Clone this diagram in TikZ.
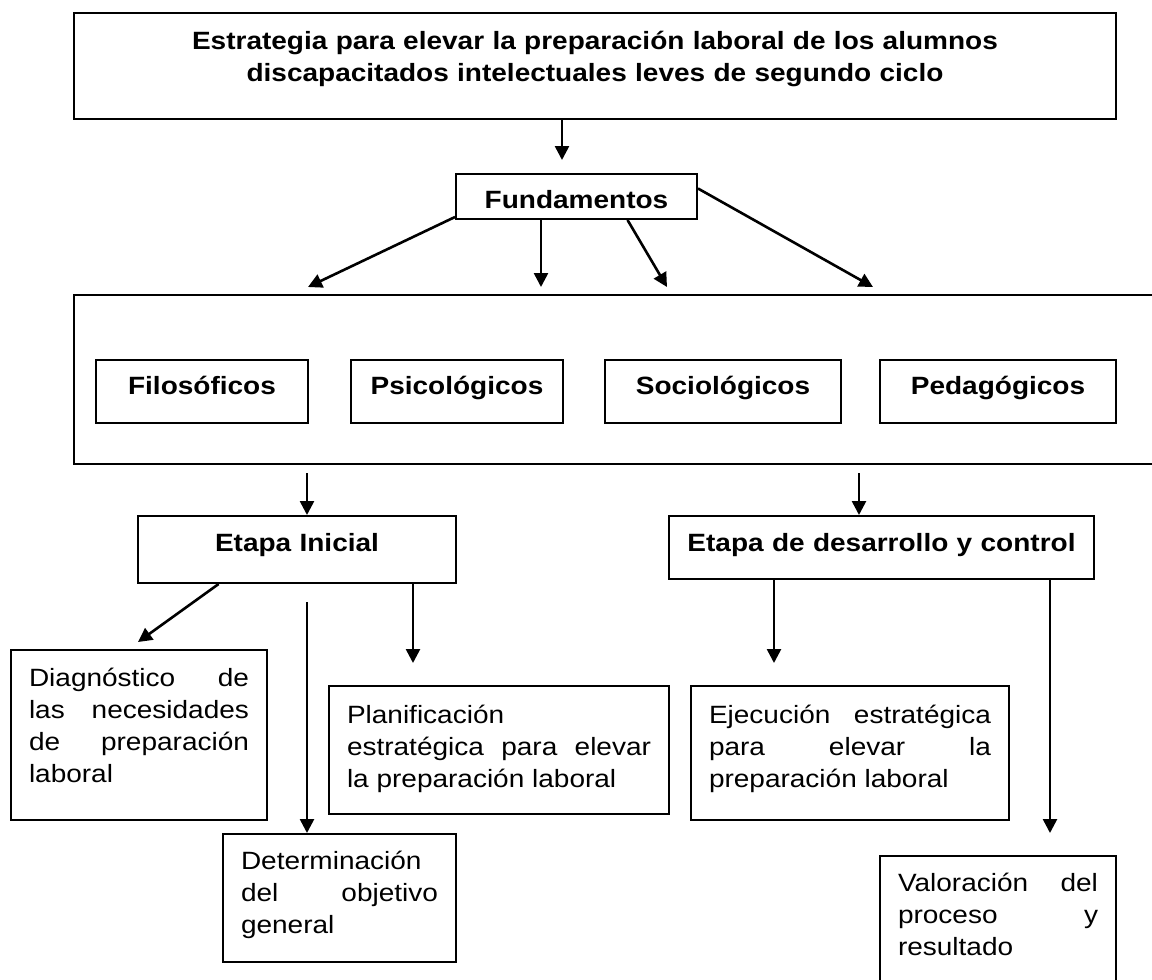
\documentclass[tikz,border=0pt]{standalone}
\usepackage{fontspec}
\setmainfont{Liberation Sans}[FakeStretch=1.12]
\usetikzlibrary{arrows.meta,calc}

\begin{document}
\begin{tikzpicture}[x=0.5pt, y=-0.5pt, >={Triangle[length=7pt,width=7pt]},
    caja/.style={draw, line width=1pt, inner xsep=9pt, inner ysep=0pt, align=center,
      font=\fontsize{12.5pt}{16pt}\selectfont\bfseries, anchor=north west},
    texto/.style={caja, align=justify, font=\fontsize{12.5pt}{16pt}\selectfont},
    flecha/.style={->, line width=1.3pt}]
    \useasboundingbox (0,0) rectangle (1152,980);
    \clip (0,0) rectangle (1152,980);

    % titulo y fundamentos
    \node[caja, text width=503pt, text height=18pt, text depth=35pt] (titulo) at (73,12)
      {Estrategia para elevar la preparación laboral de los alumnos\\discapacitados intelectuales leves de segundo ciclo};
    \node[caja, text width=102.5pt, text height=17pt, text depth=5.5pt] (fund) at (455,173) {Fundamentos};

    \node[draw, line width=1pt, minimum width=543.5pt, minimum height=84.5pt, inner sep=0pt,
      anchor=north west] (ambitos) at (73,294) {};
    \node[caja, text width=88pt, text height=17pt, text depth=14.5pt] (filo) at (95,359) {Filosóficos};
    \node[caja, text width=88pt, text height=17pt, text depth=14.5pt] (psico) at (350,359) {Psicológicos};
    \node[caja, text width=100pt, text height=17pt, text depth=14.5pt] (socio) at (604,359) {Sociológicos};
    \node[caja, text width=100pt, text height=17pt, text depth=14.5pt] (peda) at (879,359) {Pedagógicos};

    % etapas
    \node[caja, text width=141pt, text height=17.5pt, text depth=16pt] (inicial) at (137,515) {Etapa Inicial};
    \node[caja, text width=194.5pt, text height=17.5pt, text depth=14pt] (desarrollo) at (668,515)
      {Etapa de desarrollo y control};

    \node[texto, text width=110pt, text height=18pt, text depth=67pt] (diag) at (10,649)
      {Diagnóstico de\linebreak las necesidades\linebreak de preparación\linebreak laboral};
    \node[texto, text width=152pt, text height=18.5pt, text depth=45.5pt] (plan) at (328,685)
      {Planificación\\estratégica para elevar\linebreak la preparación laboral};
    \node[texto, text width=98.5pt, text height=17.5pt, text depth=46.5pt] (objetivo) at (222,833)
      {Determinación\\del objetivo\linebreak general};
    \node[texto, text width=141pt, text height=18.5pt, text depth=48.5pt] (ejec) at (690,685)
      {Ejecución estratégica\linebreak para elevar la\linebreak preparación laboral};
    \node[texto, text width=100pt, text height=17.5pt, text depth=50pt] (valor) at (879,855)
      {Valoración del\linebreak proceso y\linebreak resultado};

    % flechas
    \coordinate (t1) at (562,160);
    \draw[flecha] (titulo.south -| t1) -- (t1);
    \coordinate (f1) at (308,287);
    \coordinate (f2) at (541,287);
    \coordinate (f3) at (667,287);
    \coordinate (f4) at (873,287);
    \draw[flecha] ([yshift=1.5pt]fund.south west) -- (f1);
    \draw[flecha] (fund.south -| f2) -- (f2);
    \draw[flecha] ($(fund.south west)!0.71!(fund.south east)$) -- (f3);
    \draw[flecha] ([yshift=4pt]fund.east) -- (f4);

    \coordinate (a1) at (307,473);
    \coordinate (a2) at (859,473);
    \draw[flecha] (a1) -- (a1 |- inicial.north);
    \draw[flecha] (a2) -- (a2 |- desarrollo.north);

    \coordinate (i1) at (138,642);
    \coordinate (i2) at (307,602);
    \coordinate (i3) at (413,663);
    \draw[flecha] ($(inicial.south west)!0.255!(inicial.south east)$) -- (i1);
    \draw[flecha] (i2) -- (i2 |- objetivo.north);
    \draw[flecha] (inicial.south -| i3) -- (i3);

    \coordinate (d1) at (774,663);
    \coordinate (d2) at (1050,833);
    \draw[flecha] (desarrollo.south -| d1) -- (d1);
    \draw[flecha] (desarrollo.south -| d2) -- (d2);
\end{tikzpicture}
\end{document}
